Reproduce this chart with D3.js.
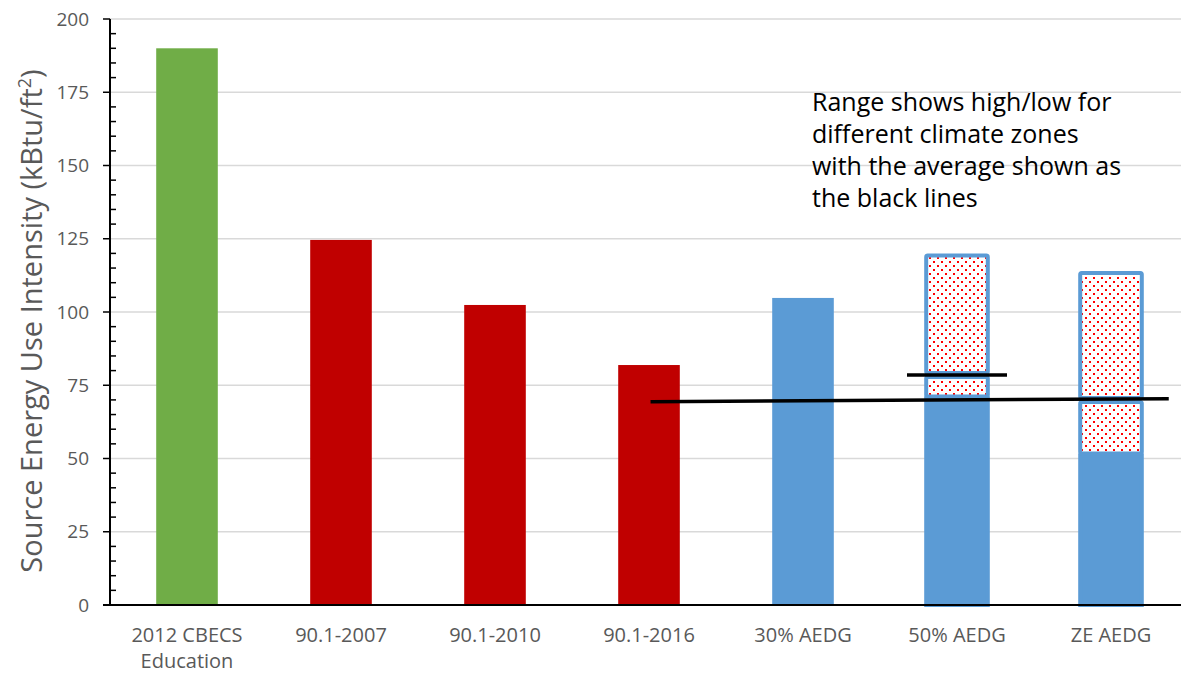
<!DOCTYPE html>
<html>
<head>
<meta charset="utf-8">
<script src="https://cdn.jsdelivr.net/npm/d3@7"></script>
<style>
  body { margin: 0; background: #fff; }
  text { font-family: "Open Sans", "Noto Sans", sans-serif; }
</style>
</head>
<body>
<script>
var width = 1181,
    height = 675;

// categories and values
const categories = ["2012 CBECS|Education", "90.1-2007", "90.1-2010", "90.1-2016", "30% AEDG", "50% AEDG", "ZE AEDG"];
const barValues  = [190, 124.6, 102.4, 81.9, 104.8, 70.5, 51];
const barColors  = ["#70AD47", "#C00000", "#C00000", "#C00000", "#5B9BD5", "#5B9BD5", "#5B9BD5"];

// climate zone range (low / average / high) for the last two guides
const rangeCats = ["50% AEDG", "ZE AEDG"];
const rangeLow  = [70.5, 51];
const rangeAvg  = [78.5, 70];
const rangeHigh = [120, 114];

// short average marker over 50% AEDG
const avgMarkCat = "50% AEDG";
const avgMarkVal = 78.5;

// long average line, x in category index units
const avgLine = [[3.01, 69.4], [6.375, 70.4]];

const yTicks = [0, 25, 50, 75, 100, 125, 150, 175, 200];
const note = ["Range shows high/low for", "different climate zones", "with the average shown as", "the black lines"];

var margin = {left: 110, top: 19, bottom: 70};
var plotRight = margin.left + 154 * 7;

var svg = d3.select("body").append("svg")
    .attr("width", width)
    .attr("height", height);

var defs = svg.append("defs");
var pat = defs.append("pattern")
    .attr("id", "dots")
    .attr("patternUnits", "userSpaceOnUse")
    .attr("width", 8).attr("height", 8);
pat.append("rect").attr("width", 8).attr("height", 8).attr("fill", "#fff");
pat.append("rect").attr("x", 1).attr("y", 1).attr("width", 2).attr("height", 2).attr("fill", "#FF0000");
pat.append("rect").attr("x", 5).attr("y", 5).attr("width", 2).attr("height", 2).attr("fill", "#FF0000");

var x = d3.scaleBand()
    .domain(categories)
    .range([margin.left, plotRight])
    .paddingInner(0.6)
    .paddingOuter(0.3);

var xi = d3.scaleLinear()
    .domain([0, 1])
    .range([margin.left + 77, margin.left + 77 + 154]);

var y = d3.scaleLinear()
    .domain([0, 200])
    .range([height - margin.bottom, margin.top]);

// gridlines
svg.append("g").attr("class", "grid")
  .selectAll("line").data(yTicks.slice(1)).enter().append("line")
    .attr("x1", margin.left).attr("x2", width)
    .attr("y1", d => y(d)).attr("y2", d => y(d))
    .attr("stroke", "#d9d9d9").attr("stroke-width", 1.5);

// bars (the ones carrying a range get the same blue outline)
svg.append("g").attr("class", "bars")
  .selectAll("rect").data(categories).enter().append("rect")
    .attr("x", d => x(d))
    .attr("width", x.bandwidth())
    .attr("y", (d, i) => y(barValues[i]))
    .attr("height", (d, i) => y(0) - y(barValues[i]))
    .attr("fill", (d, i) => barColors[i])
    .attr("stroke", d => rangeCats.includes(d) ? "#5B9BD5" : "none")
    .attr("stroke-width", 4);

// range segments (low->avg, avg->high), dotted with blue outline
var segs = [];
rangeCats.forEach(function (c, i) {
  segs.push({cat: c, lo: rangeLow[i], hi: rangeAvg[i]});
  segs.push({cat: c, lo: rangeAvg[i], hi: rangeHigh[i]});
});
svg.append("g").attr("class", "ranges")
  .selectAll("rect").data(segs).enter().append("rect")
    .attr("x", d => x(d.cat))
    .attr("width", x.bandwidth())
    .attr("y", d => y(d.hi) + 2)
    .attr("height", d => y(d.lo) - y(d.hi) - 4)
    .attr("fill", "url(#dots)")
    .attr("stroke", "#5B9BD5")
    .attr("stroke-width", 4)
    .attr("rx", 1.5);

// average lines
svg.append("line")
    .attr("x1", x(avgMarkCat) + x.bandwidth() / 2 - 50)
    .attr("x2", x(avgMarkCat) + x.bandwidth() / 2 + 50)
    .attr("y1", y(avgMarkVal)).attr("y2", y(avgMarkVal))
    .attr("stroke", "#000").attr("stroke-width", 3.5);

svg.append("path")
    .datum(avgLine)
    .attr("d", d3.line().x(d => xi(d[0])).y(d => y(d[1])))
    .attr("stroke", "#000").attr("stroke-width", 3.5).attr("fill", "none");

// y axis
var yAxis = svg.append("g").attr("class", "y axis")
    .attr("transform", "translate(" + margin.left + ",0)");
yAxis.append("line")
    .attr("y1", y(0)).attr("y2", y(200))
    .attr("stroke", "#000").attr("stroke-width", 2);
yAxis.selectAll(".major").data(yTicks).enter().append("line")
    .attr("class", "major")
    .attr("x1", -7).attr("x2", 0)
    .attr("y1", d => y(d)).attr("y2", d => y(d))
    .attr("stroke", "#000").attr("stroke-width", 1.5);
yAxis.selectAll(".minor").data(d3.range(0, 201, 5).filter(d => d % 25)).enter().append("line")
    .attr("class", "minor")
    .attr("x1", 0).attr("x2", 6)
    .attr("y1", d => y(d)).attr("y2", d => y(d))
    .attr("stroke", "#000").attr("stroke-width", 1.5);
yAxis.selectAll("text").data(yTicks).enter().append("text")
    .attr("x", -21)
    .attr("y", d => y(d))
    .attr("dy", "0.35em")
    .attr("text-anchor", "end")
    .attr("fill", "#595959")
    .style("font-size", "19px")
    .text(d => d);

// x axis
svg.append("line")
    .attr("x1", margin.left - 7).attr("x2", width)
    .attr("y1", y(0)).attr("y2", y(0))
    .attr("stroke", "#000").attr("stroke-width", 2);

svg.append("g").attr("class", "x labels")
  .selectAll("text").data(categories).enter().append("text")
    .attr("x", d => x(d) + x.bandwidth() / 2)
    .attr("y", 642)
    .attr("text-anchor", "middle")
    .attr("fill", "#595959")
    .style("font-size", "20px")
    .each(function (d) {
      var parts = d.split("|");
      d3.select(this).selectAll("tspan").data(parts).enter().append("tspan")
        .attr("x", x(d) + x.bandwidth() / 2)
        .attr("dy", (p, j) => j ? 26 : 0)
        .text(p => p);
    });

// y title
var yt = svg.append("text")
    .attr("transform", "translate(42,321) rotate(-90)")
    .attr("text-anchor", "middle")
    .attr("fill", "#595959")
    .style("font-size", "29px");
yt.append("tspan").text("Source Energy Use Intensity (kBtu/ft");
yt.append("tspan").attr("dy", -11).style("font-size", "18px").text("2");
yt.append("tspan").attr("dy", 11).text(")");

// note
svg.append("g").attr("class", "note")
  .selectAll("text").data(note).enter().append("text")
    .attr("x", 812)
    .attr("y", (d, i) => 111 + i * 32)
    .attr("fill", "#000")
    .style("font-size", "25px")
    .text(d => d);
</script>
</body>
</html>
